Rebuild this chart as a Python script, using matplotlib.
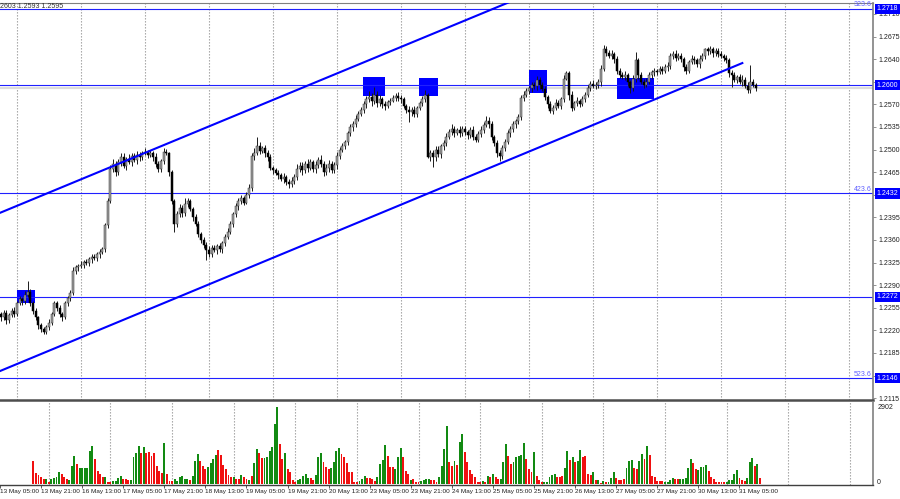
import numpy as np
import matplotlib.pyplot as plt
import matplotlib.transforms as mtransforms
from matplotlib.patches import Rectangle

# GBPUSD H1 closes (one per bar)
closes = [
    1.2240, 1.2247, 1.2236, 1.2244, 1.2250, 1.2246, 1.2262, 1.2268, 1.2265, 1.2275,
    1.2280, 1.2262, 1.2250, 1.2240, 1.2228, 1.2222, 1.2218, 1.2225, 1.2232, 1.2245,
    1.2262, 1.2255, 1.2245, 1.2240, 1.2262, 1.2270, 1.2278, 1.2312, 1.2318, 1.2320,
    1.2322, 1.2326, 1.2324, 1.2330, 1.2334, 1.2332, 1.2338, 1.2342, 1.2346, 1.2383,
    1.2420, 1.2470, 1.2478, 1.2465, 1.2480, 1.2488, 1.2475, 1.2485, 1.2480, 1.2490,
    1.2484, 1.2492, 1.2488, 1.2494, 1.2496, 1.2492, 1.2494, 1.2488, 1.2478, 1.2470,
    1.2482, 1.2496, 1.2494, 1.2465, 1.2420, 1.2385, 1.2400, 1.2410, 1.2402, 1.2415,
    1.2420, 1.2408, 1.2395, 1.2385, 1.2370, 1.2360, 1.2352, 1.2345, 1.2338, 1.2348,
    1.2344, 1.2350, 1.2346, 1.2355, 1.2365, 1.2372, 1.2385, 1.2400, 1.2412, 1.2420,
    1.2425, 1.2418, 1.2430, 1.2440, 1.2490, 1.2495, 1.2505, 1.2498, 1.2502, 1.2495,
    1.2488, 1.2472, 1.2468, 1.2463, 1.2460, 1.2455, 1.2458, 1.2450, 1.2446, 1.2452,
    1.2458, 1.2470, 1.2475, 1.2468, 1.2478, 1.2472, 1.2480, 1.2470, 1.2476, 1.2484,
    1.2478, 1.2465, 1.2472, 1.2478, 1.2468, 1.2476, 1.2490, 1.2500, 1.2505, 1.2512,
    1.2525, 1.2535, 1.2540, 1.2548, 1.2555, 1.2562, 1.2570, 1.2578, 1.2582, 1.2575,
    1.2585, 1.2572, 1.2578, 1.2570, 1.2568, 1.2574, 1.2576, 1.2580, 1.2583, 1.2580,
    1.2578, 1.2568, 1.2562, 1.2558, 1.2562, 1.2555, 1.2565, 1.2572, 1.2578, 1.2585,
    1.2488, 1.2495, 1.2488, 1.2500, 1.2493, 1.2505, 1.2510, 1.2520, 1.2528, 1.2532,
    1.2526, 1.2530, 1.2525, 1.2532, 1.2528, 1.2522, 1.2530, 1.2520, 1.2515, 1.2524,
    1.2530, 1.2538, 1.2545, 1.2540, 1.2520, 1.2510, 1.2495, 1.2490, 1.2502, 1.2512,
    1.2525, 1.2532, 1.2540, 1.2545, 1.2550, 1.2580, 1.2585, 1.2590, 1.2595, 1.2600,
    1.2598, 1.2608, 1.2600, 1.2594, 1.2582, 1.2570, 1.2560, 1.2565, 1.2572, 1.2568,
    1.2578, 1.2610, 1.2618, 1.2585, 1.2565, 1.2572, 1.2575, 1.2570, 1.2578, 1.2585,
    1.2595, 1.2602, 1.2598, 1.2600, 1.2605, 1.2625, 1.2655, 1.2650, 1.2645, 1.2648,
    1.2640, 1.2622, 1.2615, 1.2612, 1.2615, 1.2605, 1.2595, 1.2610, 1.2638, 1.2615,
    1.2605, 1.2600, 1.2605, 1.2615, 1.2620, 1.2622, 1.2620, 1.2625, 1.2622, 1.2628,
    1.2630, 1.2645, 1.2648, 1.2642, 1.2645, 1.2640, 1.2628, 1.2622, 1.2635, 1.2640,
    1.2638, 1.2632, 1.2640, 1.2645, 1.2655, 1.2652, 1.2655, 1.2650, 1.2652, 1.2648,
    1.2645, 1.2642, 1.2638, 1.2618, 1.2615, 1.2608, 1.2612, 1.2605, 1.2608, 1.2598,
    1.2592, 1.2605, 1.2600, 1.2595,
]
first_open = 1.2245

# wick lengths above / below the body, in pips
wick_up_pips = [
    3, 4, 5, 3, 4, 6, 3, 5, 4, 6, 16, 4, 3, 5, 3, 4, 3, 4, 5, 3,
    4, 3, 5, 3, 4, 3, 5, 6, 4, 3, 5, 3, 4, 3, 5, 4, 3, 4, 3, 4,
    5, 6, 8, 4, 5, 7, 6, 4, 8, 5, 4, 6, 5, 4, 6, 3, 5, 4, 6, 5,
    4, 6, 5, 3, 4, 3, 5, 6, 4, 10, 5, 4, 3, 5, 4, 3, 4, 5, 6, 4,
    5, 4, 5, 3, 4, 6, 5, 4, 6, 5, 4, 3, 5, 6, 4, 8, 15, 6, 4, 5,
    4, 5, 3, 4, 6, 4, 5, 3, 5, 6, 4, 7, 5, 6, 4, 8, 5, 4, 6, 5,
    7, 4, 5, 6, 4, 5, 6, 4, 5, 3, 4, 5, 4, 6, 5, 4, 6, 5, 8, 6,
    12, 5, 6, 4, 5, 3, 4, 5, 4, 6, 5, 4, 3, 5, 4, 6, 3, 4, 5, 8,
    2, 5, 4, 6, 5, 4, 5, 6, 4, 7, 5, 4, 6, 5, 4, 3, 5, 6, 4, 5,
    6, 4, 7, 5, 4, 3, 5, 4, 5, 4, 6, 5, 4, 3, 5, 4, 5, 6, 4, 5,
    5, 6, 4, 5, 4, 3, 5, 4, 6, 5, 4, 5, 4, 3, 5, 4, 6, 4, 5, 4,
    5, 4, 6, 4, 5, 6, 7, 5, 4, 6, 3, 5, 4, 5, 6, 4, 3, 5, 13, 4,
    5, 4, 6, 5, 4, 5, 3, 4, 5, 4, 6, 5, 4, 6, 5, 4, 3, 5, 4, 6,
    5, 4, 6, 5, 3, 4, 5, 4, 6, 5, 4, 3, 5, 4, 6, 5, 4, 5, 8, 4,
    6, 26, 4, 3,
]
wick_dn_pips = [
    5, 4, 6, 4, 3, 5, 4, 3, 5, 4, 3, 4, 5, 4, 6, 5, 3, 4, 5, 4,
    3, 5, 4, 6, 3, 4, 5, 3, 4, 6, 4, 5, 3, 4, 5, 3, 4, 6, 4, 5,
    4, 3, 5, 6, 4, 5, 4, 6, 3, 5, 4, 6, 5, 4, 3, 5, 4, 6, 5, 4,
    5, 4, 3, 6, 4, 13, 5, 4, 6, 5, 4, 3, 5, 4, 6, 5, 4, 16, 5, 4,
    3, 5, 4, 6, 5, 4, 3, 5, 4, 6, 5, 4, 3, 5, 4, 6, 3, 5, 4, 6,
    5, 4, 6, 3, 5, 4, 6, 5, 5, 4, 6, 5, 4, 7, 5, 6, 4, 5, 7, 4,
    5, 6, 4, 7, 5, 4, 6, 5, 3, 4, 5, 4, 6, 5, 4, 3, 5, 6, 4, 8,
    5, 6, 4, 5, 6, 4, 5, 3, 4, 5, 6, 4, 5, 15, 6, 4, 5, 3, 4, 5,
    1, 6, 15, 5, 4, 6, 5, 4, 3, 5, 6, 4, 5, 4, 6, 5, 4, 5, 3, 4,
    5, 4, 3, 6, 5, 4, 6, 7, 5, 4, 3, 5, 4, 6, 5, 4, 5, 3, 4, 6,
    4, 5, 6, 4, 5, 6, 4, 5, 4, 3, 5, 4, 3, 8, 6, 4, 5, 4, 3, 5,
    4, 5, 3, 4, 5, 6, 4, 5, 3, 4, 6, 5, 4, 3, 5, 6, 7, 4, 5, 6,
    4, 5, 3, 4, 5, 6, 4, 3, 5, 4, 6, 5, 4, 5, 3, 4, 6, 5, 4, 3,
    5, 4, 6, 3, 4, 5, 4, 6, 5, 4, 3, 5, 4, 6, 18, 4, 5, 3, 6, 3,
    4, 5, 3, 4,
]

# tick volumes and their colour flags (g = up vs previous bar, r = down)
volumes = [
    870, 400, 340, 280, 180, 180, 90, 180, 210, 280,
    440, 370, 280, 180, 150, 690, 1060, 760, 590, 590,
    590, 620, 1250, 1450, 930, 500, 370, 280, 280, 90,
    60, 130, 130, 240, 300, 180, 180, 150, 150, 1010,
    1180, 1450, 1180, 1400, 1180, 1210, 1070, 1180, 660, 500,
    400, 1540, 370, 110, 110, 180, 130, 250, 300, 180,
    180, 150, 320, 870, 1130, 870, 660, 550, 630, 780,
    930, 1100, 1290, 1100, 720, 550, 340, 280, 250, 190,
    190, 350, 280, 180, 150, 300, 780, 1310, 1180, 980,
    970, 1030, 1230, 1410, 2270, 2900, 1510, 930, 1160, 550,
    470, 150, 90, 150, 180, 300, 370, 210, 240, 150,
    340, 1010, 1180, 840, 630, 550, 590, 840, 1250, 1370,
    1130, 1030, 780, 470, 450, 90, 60, 130, 180, 320,
    240, 240, 180, 130, 280, 760, 910, 1460, 1060, 630,
    630, 550, 1010, 1370, 1000, 500, 380, 150, 180, 90,
    60, 130, 150, 200, 200, 150, 150, 90, 250, 680,
    1310, 2190, 840, 660, 860, 720, 1580, 1900, 1220, 840,
    530, 370, 250, 90, 90, 130, 90, 320, 250, 370,
    280, 180, 190, 840, 1510, 1060, 740, 840, 1010, 1070,
    1100, 1540, 950, 550, 440, 1210, 300, 150, 90, 90,
    90, 280, 330, 370, 250, 250, 300, 590, 1230, 890,
    1020, 810, 860, 1290, 1030, 1070, 380, 330, 470, 150,
    150, 50, 110, 60, 60, 230, 450, 210, 150, 150,
    190, 620, 870, 890, 590, 570, 880, 1130, 960, 1450,
    1100, 300, 250, 110, 110, 110, 60, 90, 150, 210,
    200, 190, 200, 200, 240, 590, 950, 790, 570, 530,
    630, 640, 720, 500, 280, 180, 90, 90, 90, 90,
    90, 150, 150, 370, 530, 210, 150, 110, 210, 840,
    970, 690, 740, 240,
]
vol_flags = ("rrrrrgrggg" "grrrgggrgg" "ggggrrrrgr" "rggggrrrgg" "ggrgrrrrrr"
             "rgrrrggggg" "grgggrrrgg" "ggrrrrrrgr" "rgrrgrggrr" "ggggggrrgr"
             "rrrgggggrr" "gggrrrgggg" "rrrrrrrggg" "rrrrggggrr" "rgggrrrgrr"
             "rggggrrrgg" "ggrrgrggrr" "rrrrrgrgrg" "rrgggrrggg" "ggrrrgrrrg"
             "ggggrrrggr" "grggrrrrgr" "grgrgggrrr" "rgggrrggrg" "rrrrrrgggg"
             "rrgggggrrg" "gggrrrrrrr" "gggggrrrgg" "grgr")

date_labels = ["13 May 05:00", "13 May 21:00", "16 May 13:00", "17 May 05:00", "17 May 21:00",
               "18 May 13:00", "19 May 05:00", "19 May 21:00", "20 May 13:00", "23 May 05:00",
               "23 May 21:00", "24 May 13:00", "25 May 05:00", "25 May 21:00", "26 May 13:00",
               "27 May 05:00", "27 May 21:00", "30 May 13:00", "31 May 05:00"]
price_ticks = [1.2115, 1.2150, 1.2185, 1.2220, 1.2255, 1.2290, 1.2325, 1.2360, 1.2395,
               1.2430, 1.2465, 1.2500, 1.2535, 1.2570, 1.2605, 1.2640, 1.2675, 1.2710]
hidden_ticks = [1.2150, 1.2430, 1.2605]  # covered by the level boxes

levels = [1.2718, 1.2600, 1.2432, 1.2272, 1.2146]
level_names = {1.2718: "323.6", 1.2432: "423.6", 1.2146: "523.6"}
bid = 1.2595

# (first bar, last bar, low price, high price)
zones = [(6.0, 12.75, 1.2262, 1.2283),
         (135.7, 144.0, 1.2583, 1.2612),
         (156.7, 163.9, 1.2583, 1.2611),
         (198.0, 204.7, 1.2588, 1.2623),
         (231.0, 244.9, 1.2578, 1.2611)]
channel_upper = ([-0.4, 191.0], [1.2402, 1.2729])
channel_lower = ([-0.4, 278.0], [1.2157, 1.2634])

# --- derived OHLC ---
n = len(closes)
x = np.arange(n)
c = np.array(closes)
o = np.r_[first_open, c[:-1]]
hi = np.maximum(o, c) + np.array(wick_up_pips) * 1e-4
lo = np.minimum(o, c) - np.array(wick_dn_pips) * 1e-4
up = c >= o
body = np.maximum(np.abs(c - o), 0.00005)

plt.rcParams['font.family'] = ['Liberation Sans', 'DejaVu Sans']
fig = plt.figure(figsize=(9, 4.99), dpi=100)
ax = fig.add_axes([0, 1 - 400 / 499, 873 / 900, 397 / 499])
axv = fig.add_axes([0, 1 - 485 / 499, 873 / 900, 83 / 499])

for a in (ax, axv):
    for gx in range(6, 330, 24):
        a.axvline(gx, color='#9c9c9c', lw=0.8, ls=(0, (1.2, 1.5)), zorder=0)
    a.set_xlim(-0.375, 327)

# bid line sits under the zones
ax.axhline(bid, color='#dcdcdc', lw=1.6, zorder=0.5)

for x0, x1, y0, y1 in zones:
    ax.add_patch(Rectangle((x0, y0), x1 - x0, y1 - y0, facecolor='#0000ff',
                           edgecolor='none', zorder=1))

for lv in levels:
    ax.axhline(lv, color='#2020ff', lw=0.8, zorder=2)

# candles
ax.vlines(x, lo, hi, color='#1a1a1a', lw=0.7, zorder=3)
ax.bar(x[up], body[up], bottom=np.minimum(o, c)[up], width=0.8,
       color='#a0a0a0', edgecolor='#303030', linewidth=0.35, zorder=4)
ax.bar(x[~up], body[~up], bottom=np.minimum(o, c)[~up], width=0.8,
       color='#000000', edgecolor='#000000', linewidth=0.35, zorder=4)

ax.plot(*channel_upper, color='#0000ff', lw=1.5, zorder=5)
ax.plot(*channel_lower, color='#0000ff', lw=1.5, zorder=5)

ax.set_ylim(1.21122, 1.27270)
ax.set_xticks([])
ax.yaxis.tick_right()
ax.set_yticks(price_ticks)
ax.set_yticklabels(["" if v in hidden_ticks else f"{v:.4f}" for v in price_ticks])
ax.tick_params(axis='y', length=2.5, width=0.6, color='#808080', labelsize=5,
               pad=1.5, labelcolor='#202020')

ax.spines['left'].set_visible(False)
ax.spines['top'].set_color('#808080')
ax.spines['top'].set_linewidth(0.8)
ax.spines['right'].set_color('#808080')
ax.spines['right'].set_linewidth(1.2)
ax.spines['bottom'].set_color('#4d4d4d')
ax.spines['bottom'].set_linewidth(1.8)

trans = mtransforms.blended_transform_factory(ax.transAxes, ax.transData)
# grey bid strip on the price scale
ax.add_patch(Rectangle((1.002, bid - 0.0003), 0.026, 0.0004, transform=trans,
                       facecolor='#e0e0e0', edgecolor='none', clip_on=False, zorder=8))
for lv in levels:
    ax.text(1.004, lv, f"{lv:.4f}", transform=trans, fontsize=5, color='white',
            va='center', ha='left', clip_on=False, zorder=10,
            bbox=dict(boxstyle='square,pad=0.25', fc='#0000ff', ec='none'))
    if lv in level_names:
        ax.text(0.998, lv + 0.00006, level_names[lv], transform=trans, fontsize=5,
                color='#6060ff', ha='right', va='bottom', zorder=6)

fig.text(0.0, 1 - 7 / 499, "2603 1.2593 1.2595", fontsize=5, color='#303030', va='center')

# volume panel
cols = ['#128a12' if f == 'g' else '#f01010' for f in vol_flags]
axv.bar(x, volumes, width=0.75, color=cols, zorder=2)
axv.set_ylim(-38, 3090)
axv.yaxis.tick_right()
axv.set_yticks([80, 2902])
axv.set_yticklabels(["0", "2902"])
axv.tick_params(axis='y', length=0, labelsize=5, pad=3, labelcolor='#202020')
label_bars = [-13 + 16 * k for k in range(len(date_labels))]
axv.set_xticks(label_bars)
axv.set_xticklabels(date_labels)
for lbl in axv.get_xticklabels():
    lbl.set_ha('left')
axv.tick_params(axis='x', length=2, width=0.6, color='#404040', labelsize=4.6, pad=1,
                labelcolor='#202020')
axv.spines['top'].set_visible(False)
axv.spines['left'].set_visible(False)
axv.spines['right'].set_color('#808080')
axv.spines['right'].set_linewidth(1.2)
axv.spines['bottom'].set_color('#404040')
axv.spines['bottom'].set_linewidth(1.0)

fig.savefig('out.png', dpi=100)
